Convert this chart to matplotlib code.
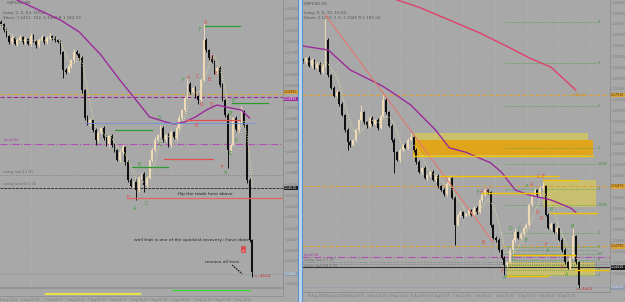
import numpy as np
import pandas as pd
import matplotlib
matplotlib.use("Agg")
import matplotlib.pyplot as plt
from matplotlib.patches import Rectangle
from matplotlib.lines import Line2D

# ---------------- DATA ----------------
PIP = 0.0001
# Left chart: GBPUSD M5
left_first_open = 1.1534
left_close = [1.1533, 1.1530, 1.1527, 1.1524, 1.1526, 1.1523, 1.1525, 1.15265, 1.1524, 1.15255,
              1.1523, 1.1527, 1.15245, 1.15225, 1.1525, 1.15265, 1.1524, 1.1526, 1.1527, 1.1526,
              1.1525, 1.1524, 1.1519, 1.1510, 1.1509, 1.1512, 1.1515, 1.1519, 1.1518, 1.1516,
              1.1500, 1.1486, 1.1483, 1.1485, 1.1480, 1.1475, 1.14785, 1.1481, 1.1476, 1.1473,
              1.1477, 1.14725, 1.1470, 1.1465, 1.1469, 1.14715, 1.1464, 1.1455, 1.1452, 1.1454,
              1.1450, 1.1456, 1.1458, 1.14525, 1.1456, 1.1465, 1.1470, 1.1475, 1.14775, 1.1481,
              1.1475, 1.14775, 1.14725, 1.1479, 1.1476, 1.1481, 1.1486, 1.1490, 1.1496, 1.1503,
              1.1499, 1.1501, 1.1497, 1.1495, 1.1505, 1.1525, 1.1520, 1.1516, 1.1514, 1.1509,
              1.1511, 1.15025, 1.1495, 1.14875, 1.1470, 1.14725, 1.1486, 1.1480, 1.1484, 1.1489,
              1.14825, 1.1455, 1.1425, 1.1409]
left_upper_wick = [1.0, 0.5, 1.0, 0.5, 1.5, 0.5, 1.0, 1.0, 0.5, 1.0,
                   0.5, 1.5, 1.0, 0.5, 1.0, 1.0, 0.5, 1.0, 1.5, 0.5,
                   1.0, 0.5, 1.0, 0.5, 1.0, 1.0, 0.5, 1.5, 1.0, 0.5,
                   1.0, 0.5, 1.5, 1.0, 0.5, 1.0, 1.0, 0.5, 1.0, 1.5,
                   0.5, 1.0, 1.0, 0.5, 1.0, 1.5, 0.5, 1.0, 1.0, 0.5,
                   1.5, 1.0, 0.5, 1.0, 1.0, 0.5, 1.0, 1.5, 0.5, 1.5,
                   1.0, 0.5, 1.0, 1.0, 0.5, 1.0, 1.5, 0.5, 1.0, 3.0,
                   1.0, 0.5, 1.0, 0.5, 1.0, 8.5, 1.0, 0.5, 1.5, 1.0,
                   0.5, 1.0, 1.0, 0.5, 1.0, 1.0, 0.5, 1.0, 1.5, 3.0,
                   1.0, 0.5, 1.0, 0.5]
left_lower_wick = [0.5, 1.0, 0.5, 1.0, 1.0, 0.5, 1.0, 0.5, 1.0, 1.0,
                   0.5, 1.0, 0.5, 1.5, 1.0, 0.5, 1.0, 1.0, 0.5, 1.0,
                   1.0, 0.5, 1.0, 4.0, 1.0, 0.5, 1.0, 1.0, 0.5, 1.0,
                   1.5, 1.0, 0.5, 1.0, 1.0, 2.5, 1.0, 0.5, 1.0, 1.0,
                   1.5, 1.0, 1.0, 0.5, 1.0, 1.0, 1.5, 1.0, 0.5, 1.0,
                   5.0, 1.0, 0.5, 3.5, 1.0, 0.5, 1.0, 1.0, 0.5, 1.0,
                   1.0, 0.5, 1.0, 1.0, 0.5, 1.0, 0.5, 1.0, 1.0, 0.5,
                   1.0, 0.5, 1.0, 2.0, 1.0, 0.5, 1.0, 1.0, 0.5, 1.0,
                   1.0, 1.0, 0.5, 1.0, 9.0, 1.0, 0.5, 1.0, 1.0, 0.5,
                   1.0, 1.5, 1.0, 2.5]
left_ma_bars = [0, 6, 14, 22, 29, 37, 44, 50, 55, 61, 64, 68, 72, 76, 80, 85, 89, 92]
left_ma_vals = [1.1550, 1.1545, 1.1540, 1.1535, 1.1529, 1.15175, 1.1505, 1.1495, 1.14865,
                1.1484, 1.1483, 1.1484, 1.14865, 1.1490, 1.14925, 1.1491, 1.1490, 1.1486]
left_ticks = [1.15410, 1.15355, 1.15300, 1.15245, 1.15190, 1.15135, 1.15080, 1.15025, 1.14970,
              1.14915, 1.14860, 1.14805, 1.14750, 1.14695, 1.14640, 1.14585, 1.14530, 1.14475,
              1.14420, 1.14365, 1.14310, 1.14255, 1.14200, 1.14145, 1.14090, 1.14035]
left_time_pos = [2.9, 10.7, 19.3, 27.4, 35.6, 43.0, 50.7, 58.1, 66.3, 74.4, 81.9, 89.3]
left_time_labels = ["6 Sep 2022", "6 Sep 23:10", "7 Sep 00:50", "7 Sep 02:10", "7 Sep 03:30",
                    "7 Sep 04:50", "7 Sep 06:10", "7 Sep 07:30", "7 Sep 08:50", "7 Sep 10:10",
                    "7 Sep 11:30", "7 Sep 12:50"]

# Right chart: GBPUSD H1
right_first_open = 1.1815
right_close = [1.1810, 1.1818, 1.1803, 1.1814, 1.1800, 1.1807, 1.1792, 1.1803, 1.1850, 1.1787,
               1.1764, 1.1749, 1.1756, 1.1735, 1.1715, 1.1688, 1.1666, 1.1661, 1.1670, 1.1688,
               1.1706, 1.1720, 1.1702, 1.1695, 1.1710, 1.1699, 1.1706, 1.1692, 1.1713, 1.1742,
               1.1720, 1.1695, 1.1670, 1.1648, 1.1634, 1.1652, 1.1661, 1.1656, 1.1670, 1.1675,
               1.1652, 1.1630, 1.1612, 1.1620, 1.1602, 1.1607, 1.1612, 1.1598, 1.1605, 1.1587,
               1.1580, 1.1573, 1.1591, 1.1602, 1.1566, 1.1517, 1.1535, 1.1540, 1.1533, 1.1537,
               1.1544, 1.1535, 1.1548, 1.1540, 1.1562, 1.1571, 1.1580, 1.1576, 1.1517, 1.1494,
               1.1490, 1.1472, 1.1458, 1.1445, 1.1450, 1.1472, 1.1490, 1.1504, 1.1494, 1.1501,
               1.1512, 1.1517, 1.1553, 1.1571, 1.1580, 1.1571, 1.1584, 1.1587, 1.1535, 1.1512,
               1.1519, 1.1504, 1.1512, 1.1490, 1.1472, 1.1450, 1.1440, 1.1458, 1.1497, 1.1450,
               1.1409]
right_upper_wick = [3, 2, 4, 3, 2, 3, 4, 2, 45, 3,
                    2, 3, 4, 2, 3, 2, 3, 4, 2, 3,
                    2, 13, 3, 2, 4, 3, 2, 3, 2, 9,
                    3, 2, 4, 3, 2, 3, 2, 4, 3, 7,
                    2, 3, 4, 2, 3, 2, 3, 4, 2, 3,
                    2, 4, 3, 5, 2, 3, 2, 4, 3, 2,
                    3, 2, 4, 3, 2, 3, 4, 2, 3, 2,
                    4, 3, 2, 3, 2, 3, 4, 7, 2, 3,
                    2, 3, 4, 2, 3, 2, 3, 7, 2, 3,
                    4, 2, 3, 2, 3, 4, 2, 3, 14, 2,
                    3]
right_lower_wick = [2, 3, 2, 4, 3, 2, 3, 4, 2, 3,
                    3, 2, 4, 3, 2, 3, 14, 3, 2, 4,
                    3, 2, 3, 4, 2, 3, 2, 4, 3, 2,
                    3, 2, 3, 38, 2, 3, 4, 2, 3, 2,
                    3, 4, 2, 3, 2, 4, 3, 2, 3, 4,
                    2, 3, 4, 2, 3, 36, 2, 3, 4, 2,
                    3, 2, 3, 4, 2, 3, 2, 4, 3, 2,
                    3, 4, 2, 18, 3, 2, 4, 3, 2, 3,
                    2, 3, 4, 2, 3, 2, 3, 4, 2, 3,
                    4, 2, 3, 2, 3, 4, 2, 3, 2, 3,
                    5]
right_ma_bars = [0, 9, 17, 28, 31, 39, 48, 53, 59, 68, 72, 77, 82, 90, 97, 99]
right_ma_vals = [1.1839, 1.1832, 1.1796, 1.1769, 1.1760, 1.1733, 1.1688, 1.1656, 1.1648,
                 1.1629, 1.1612, 1.1580, 1.1571, 1.1562, 1.1548, 1.1540]
right_slow_bars = [30, 34, 42, 53, 64, 75, 82, 90, 99]
right_slow_vals = [1.1931, 1.1922, 1.1909, 1.1886, 1.1863, 1.1836, 1.1818, 1.1801, 1.1760]
right_trend_bars = [8, 69]
right_trend_vals = [1.1895, 1.1486]
right_ticks = [1.19180, 1.18985, 1.18790, 1.18595, 1.18400, 1.18205, 1.18010, 1.17815, 1.17620,
               1.17425, 1.17230, 1.17035, 1.16840, 1.16645, 1.16450, 1.16255, 1.16060, 1.15865,
               1.15670, 1.15475, 1.15280, 1.15085, 1.14890, 1.14695, 1.14500, 1.14305, 1.14110]
right_time_pos = [4.6, 11.5, 18.7, 26.7, 34.4, 42.4, 49.6, 57.6, 65.3, 73.3, 81.3, 88.5, 95.8]
right_time_labels = ["26 Aug 2022", "26 Aug 13:00", "29 Aug 05:00", "29 Aug 21:00", "30 Aug 13:00",
                     "31 Aug 05:00", "31 Aug 21:00", "1 Sep 13:00", "2 Sep 05:00", "2 Sep 21:00",
                     "5 Sep 13:00", "6 Sep 05:00", "6 Sep 21:00"]
right_fib_levels = [1.1882, 1.1809, 1.1731, 1.1656, 1.1627, 1.1582, 1.1553, 1.1503,
                    1.1477, 1.1472, 1.1465, 1.1454, 1.1445, 1.1436, 1.1427]
right_fib_labels = ["4", "3", "2", "1", "1.618", "1", "1.618", "1", "0", "", "0.5", "0", "", "0", "1"]

left_tags = [(1.1499, "1.14990", "#d9a13a", "#4a3000"), (1.14955, "1.14955", "#9b2a9b", "white"),
             (1.1451, "1.14510", "#1a1a1a", "white"), (1.1408, "1.14080", "#8c9aab", "#e8eef4")]
right_tags = [(1.1751, "1.17510", "#d9a13a", "#4a3000"), (1.1587, "1.15870", "#d9a13a", "#4a3000"),
              (1.1479, "1.14790", "#d9a13a", "#4a3000"), (1.1441, "1.14410", "#1a1a1a", "white"),
              (1.1405, "1.14050", "#8c9aab", "#e8eef4")]

# ---------------- STYLE ----------------
BG = "#a8a8a8"
TAN = "#efdab5"
DARK = "#101010"
RED = "#e04848"
GREEN = "#3a9a3a"
ORANGE = "#d9a13a"
PURPLE = "#9b2a9b"
GOLD = "#f2c400"
TXT = "#555555"
LBL = "#7a7a7a"

W, H = 625, 302
fig = plt.figure(figsize=(6.25, 3.02), dpi=100)
fig.patch.set_facecolor(BG)


def px_axes(x0, y0, x1, y1):
    ax = fig.add_axes([x0 / W, 1 - y1 / H, (x1 - x0) / W, (y1 - y0) / H])
    ax.set_facecolor(BG)
    for s in ax.spines.values():
        s.set_visible(False)
    return ax


def fig_line(x0, y0, x1, y1, color, lw):
    fig.add_artist(Line2D([x0 / W, x1 / W], [1 - y0 / H, 1 - y1 / H], color=color, lw=lw))


def candles(ax, first_open, close, upw, low_w, width, minh):
    c = np.array(close)
    o = np.concatenate([[first_open], c[:-1]])
    top = np.maximum(o, c)
    bot = np.minimum(o, c)
    hi = top + np.array(upw) * PIP
    lo = bot - np.array(low_w) * PIP
    idx = np.arange(len(c))
    cols = np.where(c >= o, TAN, DARK)
    ax.vlines(idx, lo, hi, colors=cols, lw=0.7, zorder=3)
    ax.bar(idx, np.maximum(top - bot, minh), bottom=bot, width=width, color=cols, lw=0, zorder=4)


def price_axis(ax, ticks, tags, gap):
    ticks = [t for t in ticks if all(abs(t - p) > gap for p, *_ in tags)]
    ax.yaxis.tick_right()
    ax.set_yticks(ticks)
    ax.set_yticklabels([f"{t:.5f}" for t in ticks])
    ax.tick_params(axis="y", labelsize=2.3, colors="#8a8a8a", labelcolor=LBL, length=1.2, width=0.4, pad=0.6)
    ax.tick_params(axis="x", bottom=False, labelbottom=False)
    for p, text, bg, fg in tags:
        ax.text(1.003, p, text, transform=ax.get_yaxis_transform(), ha="left", va="center",
                fontsize=2.3, color=fg, bbox=dict(fc=bg, ec="none", pad=0.3), zorder=10, clip_on=False)


def letters(ax, items):
    for t, col, x, y in items:
        ax.text(x, y, t, color=col, fontsize=3.4, ha="center", va="center", zorder=8)


# ================= LEFT PANEL =================
axL = px_axes(0, 0, 283, 287)
axL.set_xlim(-0.37, 104.4)
axL.set_ylim(1.14015, 1.1545)
price_axis(axL, left_ticks, left_tags, 0.00018)

axL.axvline(11.1, color="#b6b6b6", lw=0.6, ls=":", zorder=1)
for p, col, ls, lw in [(1.1498, ORANGE, (0, (4, 2)), 0.8), (1.14965, PURPLE, (0, (4, 2)), 0.8),
                       (1.1473, "#b050b0", "-.", 0.8), (1.14575, "#777777", ":", 0.6),
                       (1.1451, "#333333", (0, (3, 1)), 0.7), (1.1408, "#95a0ab", "-", 0.6)]:
    axL.axhline(p, color=col, ls=ls, lw=lw, zorder=2)

candles(axL, left_first_open, left_close, left_upper_wick, left_lower_wick, 0.62, 0.00003)
fastL = pd.Series(left_close).rolling(5, min_periods=1).mean()
axL.plot(np.arange(len(left_close)), fastL, color="#e8e09a", ls=":", lw=0.7, zorder=5)
axL.plot(left_ma_bars, left_ma_vals, color=PURPLE, lw=1.0, zorder=6)

for x0, x1, p, col in [(42.2, 55.9, 1.1480, "#2f9a2f"), (75.6, 88.5, 1.1532, "#2f9a2f"),
                       (85.6, 98.9, 1.14935, "#2f9a2f"), (48.5, 61.9, 1.14615, "#2f9a2f"),
                       (68.5, 88.5, 1.1485, "#e05050"), (60.4, 78.5, 1.14655, "#e05050"),
                       (47.0, 104.4, 1.1446, "#e06666")]:
    axL.plot([x0, x1], [p, p], color=col, lw=0.9, zorder=7)
axL.plot([31.1, 93.7], [1.14835, 1.14835], color="#6f8fd8", lw=0.6, zorder=6)

letters(axL, [("A", RED, 75.6, 1.15335), ("F", GREEN, 73.7, 1.15305), ("C", RED, 78.1, 1.15165),
              ("E", RED, 79.6, 1.15085), ("B", RED, 77.0, 1.15055), ("F", GREEN, 67.4, 1.1505),
              ("A", RED, 69.3, 1.15065), ("C", RED, 72.6, 1.1507), ("D", RED, 74.1, 1.1493),
              ("D", RED, 77.8, 1.1493), ("D", GREEN, 58.5, 1.14865), ("B", RED, 72.2, 1.14825),
              ("D", GREEN, 85.9, 1.14945), ("B", GREEN, 84.8, 1.14885), ("E", GREEN, 87.0, 1.14745),
              ("C", GREEN, 58.9, 1.14725), ("B", GREEN, 51.1, 1.1463), ("F", RED, 47.0, 1.14465),
              ("A", GREEN, 49.6, 1.1441), ("C", GREEN, 53.7, 1.14435), ("C", GREEN, 84.8, 1.14685),
              ("F", RED, 81.9, 1.14615), ("A", GREEN, 83.3, 1.1459)])

axL.text(75.6, 1.1448, "flip the trade here above", fontsize=3.2, ha="center", va="center", color="#222222", zorder=9)
axL.text(70.7, 1.1425, "well that is one of the quickest recovery i have done", fontsize=3.2,
         ha="center", va="center", color="#222222", zorder=9)
axL.text(81.9, 1.1414, "remove all here", fontsize=3.2, ha="center", va="center", color="#222222", zorder=9)
axL.plot([85.6, 89.3], [1.14125, 1.1408], color="#111111", lw=0.8, ls=(0, (1.5, 0.8)), zorder=9)
axL.text(89.6, 1.14205, "R", fontsize=3.2, ha="center", va="center", color="#b01010",
         bbox=dict(fc="#f07070", ec="#d03030", lw=0.4, pad=0.4), zorder=9)
axL.text(93.6, 1.1407, "<—4h24", fontsize=2.8, ha="left", va="center", color="#d03030", zorder=9)

axL.text(2.0, 1.15435, "GBPUSD,M5", fontsize=3, color=TXT, va="center")
axL.text(0.8, 1.15385, "Long: 0, 0, 63, 10/12", fontsize=3, color=TXT, va="center")
axL.text(0.8, 1.1536, "Short: 1.1457, 102, 1.1490 R 1 182.19", fontsize=3, color=TXT, va="center")
axL.text(0.8, 1.1474, "pivot,H4", fontsize=2.6, color="#a040a0", va="bottom")
axL.text(0.8, 1.1458, "swing low,4 1.00", fontsize=2.6, color="#6e6e6e", va="bottom")
axL.text(0.8, 1.1452, "swing low,H4 1.00", fontsize=2.6, color="#6e6e6e", va="bottom")

# left sub-window
axS = px_axes(0, 288, 283, 296)
axS.set_xlim(-0.37, 104.4)
axS.set_ylim(0, 1)
axS.set_yticks([])
axS.plot([16.7, 51.5], [0.22, 0.22], color="#e6e04a", lw=1.6)
axS.plot([63.3, 92.2], [0.8, 0.8], color="#2ed82e", lw=0.8)
axS.set_xticks(left_time_pos)
axS.set_xticklabels(left_time_labels)
axS.tick_params(axis="x", labelsize=2.2, labelcolor=LBL, length=0.8, width=0.4, colors="#8a8a8a", pad=0.5)

fig_line(283, 0, 283, 296, "#8c8c8c", 0.6)
fig_line(0, 287.5, 283, 287.5, "#909090", 1.2)
fig_line(0, 296, 283, 296, "#909090", 0.6)

# ================= RIGHT PANEL =================
axR = px_axes(302, 0, 610, 292)
axR.set_xlim(-0.545, 111.45)
axR.set_ylim(1.13964, 1.1922)
price_axis(axR, right_ticks, right_tags, 0.0007)

for b in [12.2, 23.5, 35.1, 46.7, 58.0, 69.6, 81.3, 92.5, 104.2]:
    axR.axvline(b, color="#b6b6b6", lw=0.6, ls=":", zorder=1)

axR.add_patch(Rectangle((39.8, 1.1639), 63.7, 0.0044, fc="#cbc06c", ec="none", zorder=2))
axR.add_patch(Rectangle((39.8, 1.1643), 65.5, 0.0027, fc="#e1a51c", ec="none", zorder=2))
axR.add_patch(Rectangle((87.1, 1.1549), 19.3, 0.0049, fc="#c9bf6e", ec="none", zorder=2))
axR.add_patch(Rectangle((74.0, 1.1425), 32.0, 0.0025, fc="#c9bf6e", ec="none", zorder=2))

for p, col, ls, lw in [(1.1751, ORANGE, (0, (4, 2)), 0.8), (1.1587, ORANGE, (0, (4, 2)), 0.8),
                       (1.1479, ORANGE, (0, (4, 2)), 0.8), (1.1459, "#b050b0", "-.", 0.8),
                       (1.1450, "#777777", ":", 0.6), (1.1447, "#777777", ":", 0.6),
                       (1.1441, "#333333", "-", 0.8), (1.1405, "#95a0ab", "-", 0.6)]:
    axR.axhline(p, color=col, ls=ls, lw=lw, zorder=2)

for p, lab in zip(right_fib_levels, right_fib_labels):
    axR.plot([73.3, 106.7], [p, p], color="#3f9f3f", lw=0.6, ls=":", zorder=3)
    if lab:
        axR.text(106.9, p, lab, fontsize=2.4, color="#2f8f2f", va="center", ha="left", zorder=3)

candles(axR, right_first_open, right_close, right_upper_wick, right_lower_wick, 0.62, 0.0001)
fastR = pd.Series(right_close).rolling(6, min_periods=1).mean()
axR.plot(np.arange(len(right_close)), fastR, color="#e8e09a", ls=":", lw=0.7, zorder=5)
axR.plot(right_ma_bars, right_ma_vals, color=PURPLE, lw=1.0, zorder=6)
axR.plot(right_slow_bars, right_slow_vals, color="#e0406a", lw=1.0, zorder=6)
axR.plot(right_trend_bars, right_trend_vals, color="#e07a70", lw=0.8, zorder=6)

for x0, x1, p in [(49.6, 92.5, 1.1605), (87.1, 99.8, 1.1598), (64.9, 86.0, 1.1575),
                  (89.6, 106.7, 1.1539), (76.2, 98.7, 1.1463), (74.0, 88.9, 1.1425),
                  (98.7, 111.0, 1.1436), (39.8, 105.3, 1.1641)]:
    axR.plot([x0, x1], [p, p], color=GOLD, lw=1.0, zorder=7)

letters(axR, [("F", GREEN, 63.5, 1.15746), ("A", RED, 64.9, 1.15764), ("C", RED, 66.7, 1.15782),
              ("B", RED, 65.3, 1.14846), ("F", GREEN, 81.3, 1.15872), ("A", RED, 83.1, 1.1589),
              ("C", RED, 85.3, 1.16034), ("E", RED, 87.1, 1.16034), ("D", RED, 84.9, 1.15404),
              ("D", RED, 86.4, 1.15278), ("B", GREEN, 90.0, 1.1544), ("D", GREEN, 75.1, 1.15098),
              ("C", GREEN, 78.4, 1.15116), ("E", GREEN, 80.9, 1.14882), ("B", GREEN, 97.6, 1.15134),
              ("F", RED, 88.2, 1.14828), ("A", GREEN, 88.9, 1.14702), ("F", RED, 72.2, 1.14324),
              ("A", GREEN, 73.3, 1.14216), ("C", GREEN, 76.2, 1.14576), ("F", RED, 94.0, 1.14396),
              ("A", GREEN, 95.5, 1.1427)])

axR.text(100.5, 1.1751, "stRight", fontsize=2.8, color="#c8902a", ha="center", va="center", zorder=8)
axR.text(99.0, 1.1401, "<—4h44", fontsize=2.8, ha="left", va="center", color="#d03030", zorder=9)
axR.text(0.2, 1.1915, "GBPUSD,H1", fontsize=3, color=TXT, va="center")
axR.text(0.2, 1.1898, "Long: 0, 0, 10, 10:00", fontsize=3, color=TXT, va="center")
axR.text(0.2, 1.1889, "Short: 1.1457, 1 0, 1.1540 R 1 185.50", fontsize=3, color=TXT, va="center")
axR.text(0.2, 1.1460, "pivot,H4", fontsize=2.6, color="#a040a0", va="bottom")
axR.text(0.2, 1.1451, "swing low,4 1.00", fontsize=2.6, color="#6e6e6e", va="bottom")
axR.text(0.2, 1.1446, "swing low,H4 1.00", fontsize=2.6, color="#6e6e6e", va="top")

axR.set_xticks(right_time_pos)
axR.set_xticklabels(right_time_labels)
axR.tick_params(axis="x", bottom=True, labelbottom=True, labelsize=2.1, labelcolor=LBL,
                length=0.8, width=0.4, colors="#8a8a8a", pad=0.8)

fig_line(610, 0, 610, 292, "#8c8c8c", 0.6)
fig_line(302, 292, 610, 292, "#8c8c8c", 0.6)

# separator between the two charts
fig.add_artist(Rectangle((297.5 / W, 0), 5 / W, 1, transform=fig.transFigure, fc="#bcd5ec", ec="none"))
fig_line(298, 0, 298, 302, "#5f93c8", 0.8)
fig_line(302, 0, 302, 302, "#5f93c8", 0.8)

fig.savefig("out.png", dpi=100, facecolor=BG)
